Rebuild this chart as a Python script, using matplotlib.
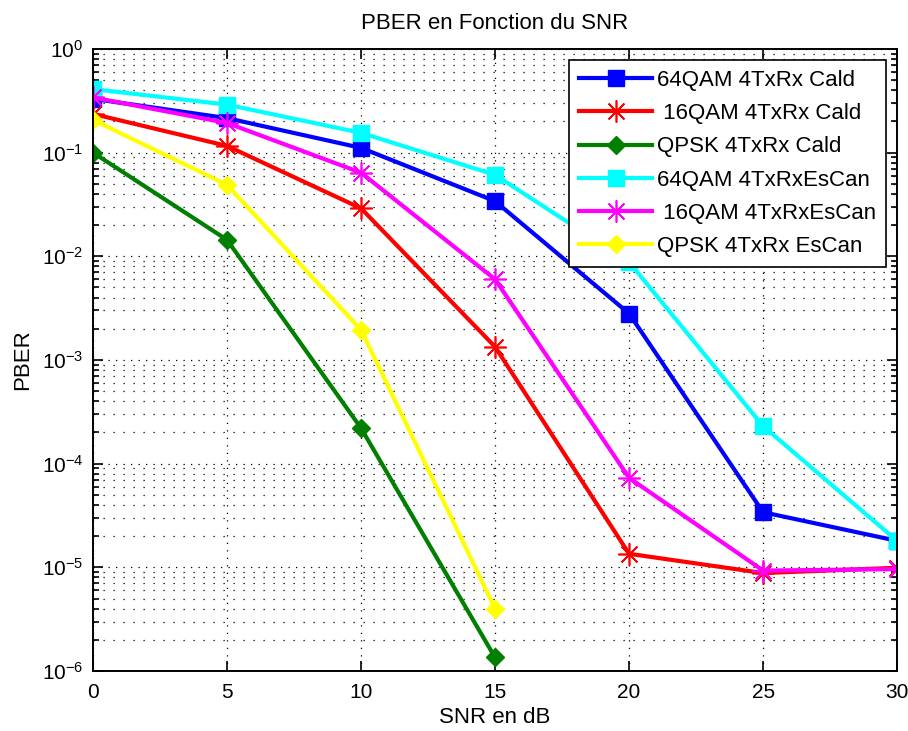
import numpy as np
import matplotlib.pyplot as plt
from matplotlib.ticker import LogLocator, NullFormatter

plt.rcParams['font.family'] = ['Liberation Sans', 'DejaVu Sans']

snr = [0, 5, 10, 15, 20, 25, 30]
snr_qpsk = [0, 5, 10, 15]

# PBER values
qam64_cald = [0.33, 0.215, 0.111, 0.034, 0.0028, 3.4e-5, 1.8e-5]
qam16_cald = [0.236, 0.116, 0.029, 0.00134, 1.35e-5, 8.8e-6, 9.9e-6]
qpsk_cald = [0.1, 0.0144, 2.2e-4, 1.35e-6]
qam64_escan = [0.41, 0.29, 0.155, 0.061, 0.0088, 2.3e-4, 1.8e-5]
qam16_escan = [0.34, 0.193, 0.064, 0.006, 7.3e-5, 9.3e-6, 9.6e-6]
qpsk_escan = [0.207, 0.0488, 0.00195, 4.0e-6]

labels = ['64QAM 4TxRx Cald', ' 16QAM 4TxRx Cald', 'QPSK 4TxRx Cald',
          '64QAM 4TxRxEsCan', ' 16QAM 4TxRxEsCan', 'QPSK 4TxRx EsCan']

star = (8, 2, 0)  # matlab-like asterisk

fig = plt.figure(figsize=(9.08, 7.31), dpi=100)
ax = fig.add_axes([0.1024, 0.0821, 0.8856, 0.851])

ax.semilogy(snr, qam64_cald, color='#0000ff', marker='s', ms=11, lw=3, label=labels[0])
ax.semilogy(snr, qam16_cald, color='#ff0000', marker=star, ms=16, mew=1.2, lw=3, label=labels[1])
ax.semilogy(snr_qpsk, qpsk_cald, color='#007f00', marker='D', ms=9, lw=3, label=labels[2])
ax.semilogy(snr, qam64_escan, color='#00ffff', marker='s', ms=11, lw=3, label=labels[3])
ax.semilogy(snr, qam16_escan, color='#ff00ff', marker=star, ms=16, mew=1.2, lw=3, label=labels[4])
ax.semilogy(snr_qpsk, qpsk_escan, color='#ffff00', marker='D', ms=9, lw=3, label=labels[5])

ax.set_xlim(0, 30)
ax.set_ylim(1e-6, 1)
ax.set_xticks([0, 5, 10, 15, 20, 25, 30])
ax.yaxis.set_major_locator(LogLocator(base=10, numticks=10))
ax.yaxis.set_minor_locator(LogLocator(base=10, subs=np.arange(2, 10), numticks=20))
ax.yaxis.set_minor_formatter(NullFormatter())

ax.grid(True, which='major', color='k', linestyle=(0, (1, 5)), lw=0.9)
ax.grid(True, which='minor', axis='y', color='k', linestyle=(0, (1, 7)), lw=0.9)

ax.tick_params(which='both', direction='in', top=True, right=True, labelsize=15, width=1.2)
ax.tick_params(which='major', length=7)
ax.tick_params(which='minor', length=4)
ax.tick_params(axis='x', pad=9)
ax.tick_params(axis='y', pad=7)
for s in ax.spines.values():
    s.set_linewidth(1.4)

ax.set_title('PBER en Fonction du SNR', fontsize=16, pad=14)
ax.set_xlabel('SNR en dB', fontsize=16, labelpad=3)
ax.set_ylabel('PBER', fontsize=16, labelpad=6)

leg = ax.legend(loc='upper right', fontsize=16, fancybox=False, framealpha=1,
                edgecolor='k', handlelength=3.3, handletextpad=0.2,
                borderaxespad=0.5, labelspacing=0.55, borderpad=0.45)
leg.get_frame().set_linewidth(1.2)

fig.savefig('out.png', dpi=100)
